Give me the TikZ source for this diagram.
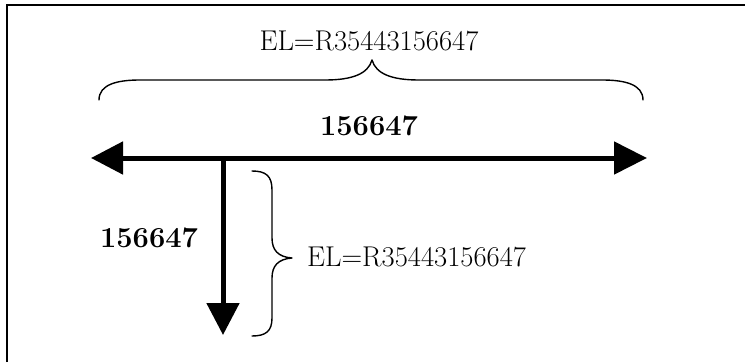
\documentclass[tikz,border=0pt]{standalone}
\usetikzlibrary{arrows.meta}
\begin{document}
\begin{tikzpicture}[x=1pt,y=-1pt,
  bigtxt/.style={inner sep=0pt,font=\fontsize{28.6}{34}\selectfont},
  boldtxt/.style={inner sep=0pt,font=\fontsize{29}{34}\selectfont\bfseries},
  thick arrow/.style={line width=5pt,
    arrows={-Triangle[length=32pt,width=32pt]}},
  bracepath/.style={line width=1.4pt,line cap=round,line join=round},
  frameline/.style={line width=2.3pt}]
\useasboundingbox (0,0) rectangle (745,362);
% frame (top and left edges visible)
\draw[frameline] (7,362) -- (7,5.3) -- (745,5.3);
% arrows
\coordinate (L) at (91,158);
\coordinate (R) at (647,158);
\coordinate (T) at (223,158);
\coordinate (B) at (223,335);
\draw[line width=5pt,arrows={Triangle[length=32pt,width=32pt]-Triangle[length=33pt,width=32pt]}] (L) -- (R);
\draw[thick arrow] (T) -- (B);
% labels
\node[bigtxt] (topEL) at (369,41) {EL=R35443156647};
\node[boldtxt] (hlen) at (369,126) {156647};
\node[boldtxt] (vlen) at (149,238) {156647};
\node[bigtxt,anchor=west] (sideEL) at (307,257) {EL=R35443156647};
% top brace
\draw[bracepath] (99,100) .. controls (99,84) and (118,80) .. (140,80)
  -- (325,80) .. controls (352,80) and (368,74) .. (372,60)
  .. controls (376,74) and (392,80) .. (419,80)
  -- (602,80) .. controls (624,80) and (643,84) .. (643,100);
% right brace
\draw[bracepath] (252,171) .. controls (266,171) and (272,176) .. (272,190)
  -- (272,238) .. controls (272,250) and (278,257) .. (292,258)
  .. controls (278,259) and (272,266) .. (272,278)
  -- (272,318) .. controls (272,331) and (266,336) .. (252,336);
\end{tikzpicture}
\end{document}
